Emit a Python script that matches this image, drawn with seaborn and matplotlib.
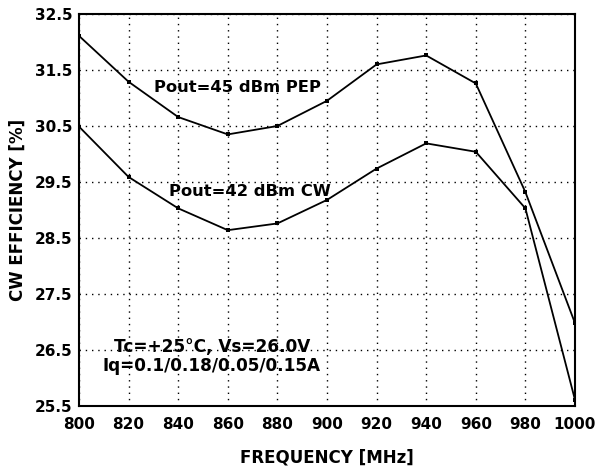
import matplotlib
matplotlib.use("Agg")
import matplotlib.pyplot as plt
import seaborn as sns

# values
freq = [800, 820, 840, 860, 880, 900, 920, 940, 960, 980, 1000]
eff_pep = [32.11, 31.29, 30.66, 30.35, 30.50, 30.95, 31.60, 31.76, 31.26, 29.32, 26.98]
eff_cw = [30.49, 29.59, 29.03, 28.64, 28.76, 29.18, 29.74, 30.19, 30.04, 29.03, 25.61]

xticks = [800, 820, 840, 860, 880, 900, 920, 940, 960, 980, 1000]
yticks = [25.5, 26.5, 27.5, 28.5, 29.5, 30.5, 31.5, 32.5]

sns.set_theme(style="white")
plt.rcParams['font.family'] = ['DejaVu Sans']
plt.rcParams['font.weight'] = 'bold'
plt.rcParams['text.color'] = 'black'
plt.rcParams['axes.labelcolor'] = 'black'
plt.rcParams['xtick.color'] = 'black'
plt.rcParams['ytick.color'] = 'black'

fig = plt.figure(figsize=(6.08, 4.73), dpi=100)
ax = fig.add_axes([0.1299, 0.1416, 0.8158, 0.8288])

for vals in (eff_pep, eff_cw):
    sns.lineplot(x=freq, y=vals, ax=ax, color='black', linewidth=1.3,
                 marker='s', markersize=3.2, markeredgewidth=0)

ax.set_xlim(800, 1000)
ax.set_ylim(25.5, 32.5)
ax.set_xticks(xticks)
ax.set_yticks(yticks)
ax.set_xticklabels([str(t) for t in xticks], fontsize=11, fontweight='bold')
ax.set_yticklabels([f"{t:.1f}" for t in yticks], fontsize=11, fontweight='bold')
ax.tick_params(axis='both', length=0, colors='black', labelcolor='black')
ax.tick_params(axis='x', pad=8)
ax.tick_params(axis='y', pad=4.5)

ax.grid(True, color='black', linestyle=(0, (1, 3.5)), linewidth=1.0)
for s in ax.spines.values():
    s.set_color('black')
    s.set_linewidth(1.5)

ax.set_xlabel('FREQUENCY [MHz]', fontsize=12, fontweight='bold', labelpad=12,
              color='black')
ax.set_ylabel('CW EFFICIENCY [%]', fontsize=12, fontweight='bold', labelpad=6,
              color='black')

ax.text(863.7, 31.18, 'Pout=45 dBm PEP', fontsize=11.8, fontweight='bold',
        va='center', ha='center', color='black')
ax.text(868.9, 29.33, 'Pout=42 dBm CW', fontsize=11.8, fontweight='bold',
        va='center', ha='center', color='black')
ax.text(853.5, 26.38, 'Tc=+25°C, Vs=26.0V\nIq=0.1/0.18/0.05/0.15A',
        fontsize=12.2, fontweight='bold', va='center', ha='center',
        linespacing=1.1, color='black')

fig.savefig('out.png', dpi=100)
